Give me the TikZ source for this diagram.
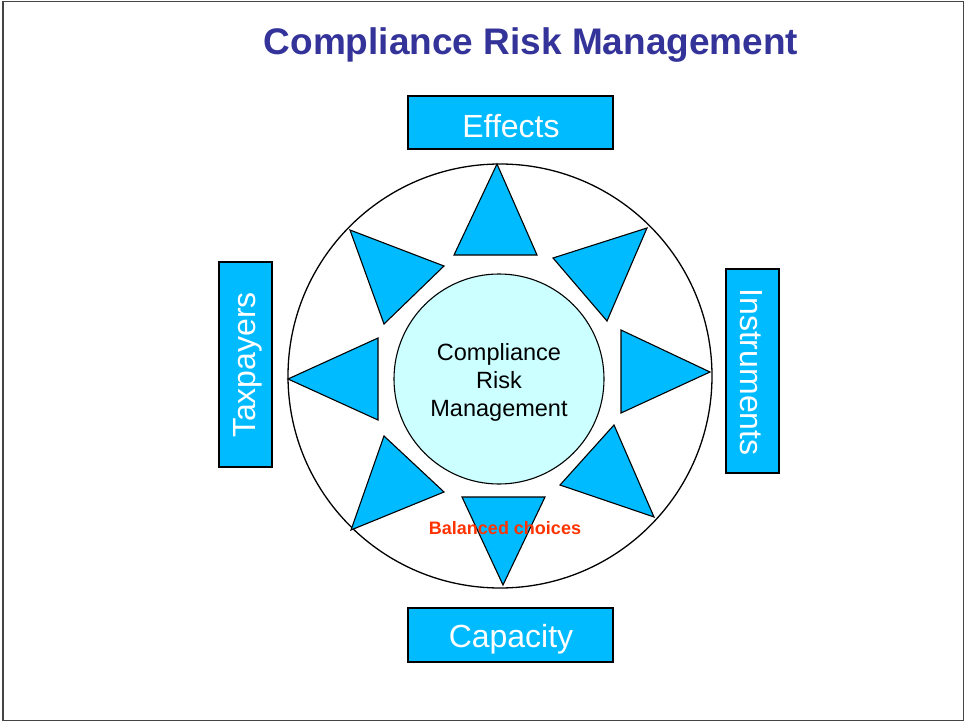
\documentclass[tikz,border=0pt]{standalone}
\usepackage{fontspec}
\setmainfont{Liberation Sans}
\definecolor{titleblue}{HTML}{333399}
\definecolor{boxblue}{HTML}{00BBFF}
\definecolor{paleblue}{HTML}{CCFFFF}
\definecolor{redtext}{HTML}{FF3300}
\definecolor{framegray}{HTML}{444444}
\begin{document}
\begin{tikzpicture}[x=1pt,y=-1pt,
  labelbox/.style={draw=black,line width=1.2pt,fill=boxblue,inner sep=0pt},
  boxtext/.style={text=white,inner sep=0pt,font=\fontsize{32}{36}\selectfont},
  tri/.style={draw=black,line width=1.1pt,fill=boxblue,line join=miter}]
\useasboundingbox (0,0) rectangle (966,722);
\draw[framegray,line width=1.5pt] (3,1.5) rectangle (963.5,720.5);
\node[text=titleblue,font=\bfseries\fontsize{37}{40}\selectfont] (title) at (531,45) {Compliance Risk Management};
% outer circle
\node[circle,draw=black,line width=1.3pt,minimum size=424pt,inner sep=0pt] (outer) at (500,376) {};
% inner circle
\node[circle,draw=black,line width=1.1pt,fill=paleblue,minimum size=210pt,inner sep=0pt] (inner) at (499,379) {};
\node[align=center,font=\fontsize{23.5}{28}\selectfont] (innertext) at (499,382) {Compliance\\Risk\\Management};
% triangles
\draw[tri] (497,164) -- (537,255) -- (454,255) -- cycle;
\draw[tri] (647,228) -- (607,321) -- (553,258) -- cycle;
\draw[tri] (621,330) -- (710,372) -- (621,413) -- cycle;
\draw[tri] (614,425) -- (654,517) -- (560,485) -- cycle;
\draw[tri] (462,497) -- (545,497) -- (503,585) -- cycle;
\draw[tri] (384,436) -- (444,492) -- (351,530) -- cycle;
\draw[tri] (378,338) -- (378,420) -- (288,379) -- cycle;
\draw[tri] (350,230) -- (444,266) -- (384,324) -- cycle;
\node[text=redtext,font=\bfseries\fontsize{18}{20}\selectfont] (balanced) at (505,528) {Balanced choices};
% boxes
\node[labelbox,minimum width=205pt,minimum height=53pt] (effects) at (510.5,122.5) {};
\node[boxtext] (effectstext) at (511,126) {Effects};
\node[labelbox,minimum width=205pt,minimum height=54pt] (capacity) at (510.5,635) {};
\node[boxtext] (capacitytext) at (511,639) {Capacity};
\node[labelbox,minimum width=53pt,minimum height=205pt] (taxpayers) at (245.5,364.5) {};
\node[boxtext,rotate=90] (taxpayerstext) at (248,365) {Taxpayers};
\node[labelbox,minimum width=53pt,minimum height=204pt] (instruments) at (752.5,371) {};
\node[boxtext,rotate=-90] (instrumentstext) at (751,372) {Instruments};
\end{tikzpicture}
\end{document}
